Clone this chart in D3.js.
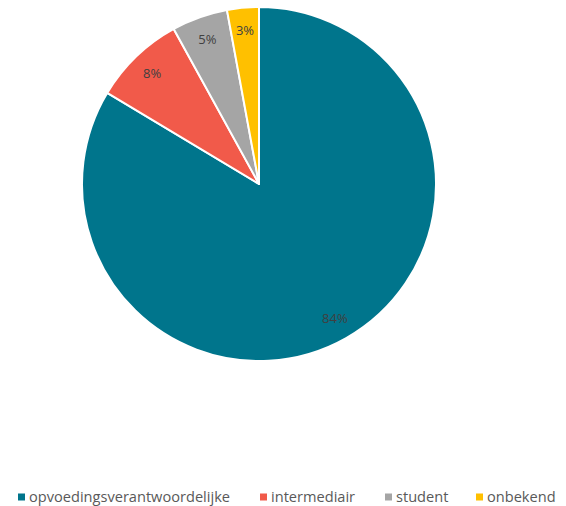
<!DOCTYPE html>
<html>
<head>
<meta charset="utf-8">
<script src="https://cdn.jsdelivr.net/npm/d3@7"></script>
<style>
  body { margin: 0; background: #fff; }
  svg { display: block; }
</style>
</head>
<body>
<svg width="566" height="506"></svg>
<script>
var width = 566;
var height = 506;

// data
var categories = ["opvoedingsverantwoordelijke", "intermediair", "student", "onbekend"];
var shares = [0.836, 0.084, 0.051, 0.029];
var colors = ["#00758c", "#f15a4a", "#a5a5a5", "#ffc000"];

var cx = 259, cy = 184, radius = 177;

var svg = d3.select('svg');

var pie = d3.pie().sort(null).value(function (d) { return d; });
var arcs = pie(shares);

var arc = d3.arc().innerRadius(0).outerRadius(radius);
var labelArc = d3.arc().innerRadius(radius * 0.87).outerRadius(radius * 0.87);

var g = svg.append("g").attr("transform", "translate(" + cx + "," + cy + ")");

// slices
g.selectAll("path")
    .data(arcs)
    .enter()
    .append("path")
    .attr("d", arc)
    .attr("fill", function (d, i) { return colors[i]; })
    .attr("stroke", "#fff")
    .attr("stroke-width", 2)
    .attr("stroke-linejoin", "round");

// percentage labels
g.selectAll("text")
    .data(arcs)
    .enter()
    .append("text")
    .attr("transform", function (d) { return "translate(" + labelArc.centroid(d) + ")"; })
    .attr("text-anchor", "middle")
    .attr("dy", "0.35em")
    .attr("font-family", "'Open Sans', sans-serif")
    .attr("font-size", "13px")
    .attr("fill", "#404040")
    .text(function (d) { return Math.round(d.data * 100) + "%"; });

// legend
var legendX = [18, 260, 385, 476];
var legend = svg.selectAll(".legend")
    .data(categories)
    .enter()
    .append("g")
    .attr("class", "legend")
    .attr("transform", function (d, i) { return "translate(" + legendX[i] + ",497)"; });

legend.append("rect")
    .attr("x", 0)
    .attr("y", -3.5)
    .attr("width", 7)
    .attr("height", 7)
    .attr("fill", function (d, i) { return colors[i]; });

legend.append("text")
    .attr("x", 11)
    .attr("y", 0)
    .attr("dy", "0.35em")
    .attr("font-family", "'Open Sans', sans-serif")
    .attr("font-size", "14.6px")
    .attr("fill", "#595959")
    .text(function (d) { return d; });
</script>
</body>
</html>
